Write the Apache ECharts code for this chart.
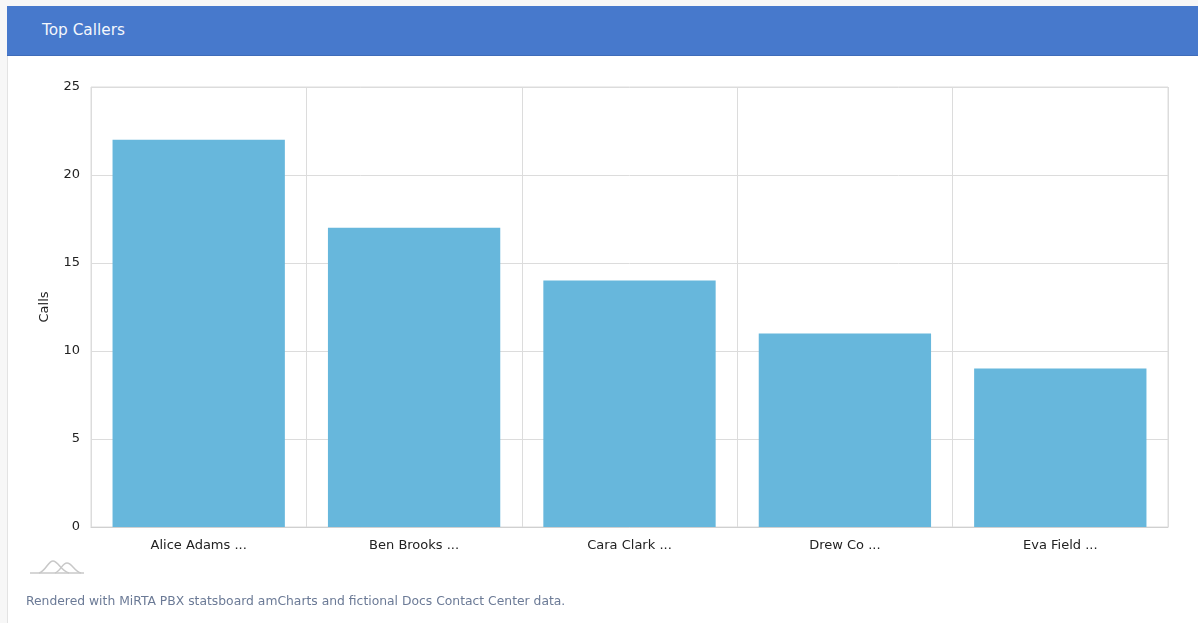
<!DOCTYPE html>
<html>
<head>
<meta charset="utf-8">
<script src="https://cdn.jsdelivr.net/npm/echarts@6/dist/echarts.min.js"></script>
<style>
  html, body { margin: 0; padding: 0; width: 1198px; height: 623px; overflow: hidden; background: #f7f7f7; font-family: "DejaVu Sans", sans-serif; }
  #card { position: absolute; left: 7px; top: 6px; width: 1200px; height: 640px; background: #ffffff; border: 1px solid #e3e3e3; box-sizing: border-box; }
  #header { position: absolute; left: 7px; top: 6px; width: 1200px; height: 50px; background: #4779cc; border-bottom: 1px solid #3f6cb9; box-sizing: border-box; }
  #title { position: absolute; left: 42px; top: 21px; color: #f4f7fc; font-size: 15.3px; font-family: "DejaVu Sans", sans-serif; }
  #chart { position: absolute; left: 0; top: 0; width: 1198px; height: 623px; }
</style>
</head>
<body>
<div id="card"></div>
<div id="header"></div>
<div id="title">Top Callers</div>
<div id="chart"></div>
<script>
const categories = ["Alice Adams ...", "Ben Brooks ...", "Cara Clark ...", "Drew Co ...", "Eva Field ..."];
const calls = [22, 17, 14, 11, 9];
const yTicks = { min: 0, max: 25, interval: 5 };
const axisName = "Calls";
const footerText = "Rendered with MiRTA PBX statsboard amCharts and fictional Docs Contact Center data.";

const logoStroke = { stroke: '#c8c8c8', lineWidth: 1.5, fill: null };
const chart = echarts.init(document.getElementById('chart'), null, { renderer: 'canvas' });
chart.setOption({
  animation: false,
  textStyle: { fontFamily: 'DejaVu Sans' },
  grid: { left: 91, top: 87, width: 1077, height: 440, show: true, borderColor: '#dcdcdc', borderWidth: 1 },
  xAxis: {
    type: 'category',
    data: categories,
    axisLine: { show: true, lineStyle: { color: '#d0d0d0' } },
    axisTick: { show: false },
    splitLine: { show: true, lineStyle: { color: '#dcdcdc' } },
    axisLabel: { color: '#222', fontSize: 13, margin: 12 }
  },
  yAxis: {
    type: 'value',
    min: yTicks.min, max: yTicks.max, interval: yTicks.interval,
    name: axisName,
    nameLocation: 'middle',
    nameGap: 40,
    nameTextStyle: { color: '#222', fontSize: 13 },
    axisLine: { show: false },
    axisTick: { show: false },
    splitLine: { lineStyle: { color: '#dcdcdc' } },
    axisLabel: { color: '#222', fontSize: 13, margin: 11 }
  },
  series: [{
    type: 'bar',
    data: calls,
    barWidth: '80%',
    itemStyle: { color: '#67b7dc' }
  }],
  graphic: [
    { type: 'line', shape: { x1: 30, y1: 573, x2: 84, y2: 573 }, style: { stroke: '#c8c8c8', lineWidth: 1.5 } },
    { type: 'bezierCurve', shape: { x1: 39, y1: 573, cpx1: 46, cpy1: 571, cpx2: 48, cpy2: 561, x2: 53, y2: 561 }, style: logoStroke },
    { type: 'bezierCurve', shape: { x1: 53, y1: 561, cpx1: 58, cpy1: 561, cpx2: 61, cpy2: 571, x2: 69, y2: 573 }, style: logoStroke },
    { type: 'bezierCurve', shape: { x1: 55, y1: 573, cpx1: 61, cpy1: 571, cpx2: 62, cpy2: 563, x2: 67, y2: 563 }, style: logoStroke },
    { type: 'bezierCurve', shape: { x1: 67, y1: 563, cpx1: 72, cpy1: 563, cpx2: 74, cpy2: 571, x2: 81, y2: 573 }, style: logoStroke },
    {
      type: 'text',
      left: 26, top: 596,
      style: { text: footerText, fill: '#6b7a96', font: '12.35px "DejaVu Sans"' }
    }
  ]
});
</script>
</body>
</html>
